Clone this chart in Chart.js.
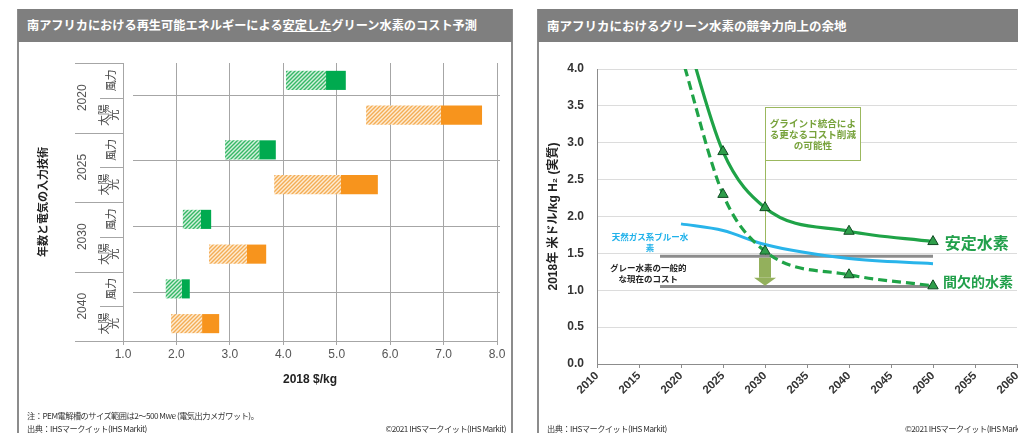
<!DOCTYPE html>
<html lang="ja">
<head>
<meta charset="UTF-8" />
<title>南アフリカのグリーン水素コスト</title>
<script src="https://cdn.jsdelivr.net/npm/chart.js"></script>
<style>
  body   { margin:0; width:1018px; height:433px; overflow:hidden; background:#fff; position:relative;
           font-family:"Liberation Sans","Noto Sans CJK JP",sans-serif; }
  .frame { position:absolute; top:9px; height:440px; border-left:2px solid #8c8c8c; border-right:2px solid #8c8c8c; }
  .head  { position:absolute; top:9px; height:33px; background:#7f7f7f; color:#fff; font-weight:bold;
           font-size:12.2px; line-height:33px; padding-left:9px; box-sizing:border-box; white-space:nowrap;
           font-family:"Noto Sans CJK JP",sans-serif; overflow:hidden; }
  .box   { position:absolute; top:43px; }
  .note  { position:absolute; font-size:8.2px; color:#333; white-space:nowrap; letter-spacing:-0.5px;
           font-family:"Noto Sans CJK JP",sans-serif; }
</style>
</head>
<body>

<div class="frame" style="left:17px;width:492px;"></div>
<div class="frame" style="left:537px;width:500px;"></div>
<div class="head" style="left:18px;width:494px;">南アフリカにおける再生可能エネルギーによる<u>安定した</u>グリーン水素のコスト予測</div>
<div class="head" style="left:538px;width:480px;font-size:12.5px;">南アフリカにおけるグリーン水素の競争力向上の余地</div>

<div class="box" style="left:19px;"><canvas id="costBars" width="492" height="390"></canvas></div>
<div class="box" style="left:539px;"><canvas id="compLines" width="479" height="390"></canvas></div>

<div class="note" style="left:27px;top:409px;">注：PEM電解槽のサイズ範囲は2～500 Mwe (電気出力メガワット)。</div>
<div class="note" style="left:27px;top:422px;">出典：IHSマークイット(IHS Markit)</div>
<div class="note" style="left:372px;top:422px;width:134px;text-align:right;">©2021 IHSマークイット(IHS Markit)</div>
<div class="note" style="left:547px;top:422px;">出典：IHSマークイット(IHS Markit)</div>
<div class="note" style="left:905px;top:422px;">©2021 IHSマークイット(IHS Markit)</div>

<script>
  /* ---------- left: cost ranges (2018 $/kg) ---------- */
  const years     = ['2020','2025','2030','2040'];
  const techs     = ['風力','太陽光'];
  const windLow   = [4.05, 2.91, 2.12, 1.80];
  const windMid   = [4.80, 3.55, 2.46, 2.10];
  const windHigh  = [5.17, 3.86, 2.65, 2.25];
  const solarLow  = [5.55, 3.83, 2.61, 1.90];
  const solarMid  = [6.95, 5.08, 3.32, 2.48];
  const solarHigh = [7.72, 5.77, 3.68, 2.80];
  const costTicks = [1, 2, 3, 4, 5, 6, 7, 8];

  /* ---------- right: competitiveness (USD/kg H2) ---------- */
  const lineYears    = [2020, 2025, 2030, 2040, 2050];
  const stableH2     = [4.70, 2.88, 2.12, 1.80, 1.66];
  const intermitH2   = [4.20, 2.30, 1.53, 1.21, 1.06];
  const blueYears    = [2020, 2025, 2030, 2040, 2050];
  const blueH2       = [1.90, 1.81, 1.62, 1.43, 1.36];
  const greyYears    = [2017.5, 2050];
  const greyHigh     = [1.46, 1.46];
  const greyLow      = [1.05, 1.05];
  const yearTicks    = [2010,2015,2020,2025,2030,2035,2040,2045,2050,2055,2060];
  const priceTicks   = [0,0.5,1,1.5,2,2.5,3,3.5,4];

  const FONT = '"Liberation Sans","Noto Sans CJK JP",sans-serif';
  const CJK  = '"Noto Sans CJK JP",sans-serif';

  /* ---------- hatch pattern ---------- */
  function hatch(ctx, bg, fg) {
    const c = document.createElement('canvas');
    c.width = 4; c.height = 4;
    const g = c.getContext('2d');
    g.fillStyle = bg; g.fillRect(0, 0, 4, 4);
    g.strokeStyle = fg; g.lineWidth = 1.4;
    g.beginPath();
    g.moveTo(-1, 5); g.lineTo(5, -1);
    g.moveTo(-1, 1); g.lineTo(1, -1);
    g.moveTo(3, 5);  g.lineTo(5, 3);
    g.stroke();
    return ctx.createPattern(c, 'repeat');
  }

  const leftCtx   = document.getElementById('costBars').getContext('2d');
  const windHatch = hatch(leftCtx, '#d4f0dd', '#35b866');
  const sunHatch  = hatch(leftCtx, '#fdebd3', '#f4ad55');

  const rows = [], hatched = [], solid = [], hatchCol = [], solidCol = [];
  years.forEach((y, i) => {
    rows.push(y + ' ' + techs[0]); hatched.push([windLow[i], windMid[i]]);  solid.push([windMid[i], windHigh[i]]);
    hatchCol.push(windHatch); solidCol.push('#00aa4f');
    rows.push(y + ' ' + techs[1]); hatched.push([solarLow[i], solarMid[i]]); solid.push([solarMid[i], solarHigh[i]]);
    hatchCol.push(sunHatch);  solidCol.push('#f7941d');
  });

  // odd offset grid rows as seen in the source, in category units
  const rowLines = [0.43, 2.30, 4.20, 6.10];

  const categoryLabels = {
    id:'categoryLabels',
    beforeDatasetsDraw(chart) {
      const {ctx, chartArea:a, scales:{y}} = chart;
      ctx.save();
      ctx.strokeStyle = '#a6a6a6'; ctx.lineWidth = 1;
      ctx.beginPath();
      rowLines.forEach(v => { const p = Math.round(y.getPixelForValue(v)) + .5; ctx.moveTo(a.left + 10, p); ctx.lineTo(a.right + 3, p); });
      ctx.stroke();
      ctx.restore();
    },
    afterDraw(chart) {
      const {ctx, chartArea:a, scales:{y}} = chart;
      const half = (y.getPixelForValue(1) - y.getPixelForValue(0)) / 2;
      ctx.save();
      ctx.strokeStyle = '#a6a6a6'; ctx.lineWidth = 1;
      ctx.beginPath();
      ctx.moveTo(a.left + .5, a.top); ctx.lineTo(a.left + .5, a.bottom);
      years.forEach((yr, g) => {
        const top = Math.round(y.getPixelForValue(2 * g) - half) + .5;
        const mid = Math.round(y.getPixelForValue(2 * g) + half) + .5;
        ctx.moveTo(a.left - 48, top); ctx.lineTo(a.left, top);
        ctx.moveTo(a.left - 23, mid); ctx.lineTo(a.left, mid);
      });
      const bot = Math.round(a.bottom) + .5;
      ctx.moveTo(a.left - 48, bot); ctx.lineTo(a.right, bot);
      ctx.stroke();

      const rot = (txt, x, yy, font, col) => {
        ctx.save(); ctx.translate(x, yy); ctx.rotate(-Math.PI / 2);
        ctx.font = font; ctx.fillStyle = col; ctx.textAlign = 'center'; ctx.textBaseline = 'middle';
        ctx.fillText(txt, 0, 0); ctx.restore();
      };
      years.forEach((yr, g) => {
        const c = (y.getPixelForValue(2 * g) + y.getPixelForValue(2 * g + 1)) / 2;
        rot(yr, a.left - 40, c, '12px ' + FONT, '#555');
        rot(techs[0], a.left - 12, y.getPixelForValue(2 * g), '11px ' + CJK, '#444');
        rot(techs[1].slice(0, 2), a.left - 19, y.getPixelForValue(2 * g + 1), '11px ' + CJK, '#444');
        rot(techs[1].slice(2), a.left - 9, y.getPixelForValue(2 * g + 1), '11px ' + CJK, '#444');
      });
      rot('年数と電気の入力技術', 24, (a.top + a.bottom) / 2, 'bold 11px ' + CJK, '#222');
      ctx.restore();
    }
  };

  new Chart(leftCtx, {
    type:'bar',
    data:{ labels:rows,
      datasets:[
        { data:hatched, backgroundColor:hatchCol, grouped:false, barPercentage:0.55, categoryPercentage:1 },
        { data:solid,   backgroundColor:solidCol, grouped:false, barPercentage:0.55, categoryPercentage:1 }
      ] },
    options:{
      indexAxis:'y', responsive:false, animation:false,
      layout:{ padding:{ left:104, right:14, top:20, bottom:0 } },
      plugins:{ legend:{display:false}, tooltip:{enabled:false} },
      scales:{
        y:{ display:false },
        x:{ min:1, max:8,
            afterBuildTicks: s => { s.ticks = costTicks.map(v => ({value:v})); },
            afterFit: s => { s.height = 92; },
            grid:{ color:'#a6a6a6', tickLength:4, tickColor:'#a6a6a6' },
            border:{ display:false },
            ticks:{ padding:2, color:'#555', font:{ family:FONT, size:12 }, callback:v => v.toFixed(1) },
            title:{ display:true, text:'2018 $/kg', color:'#222', padding:{ top:0, bottom:46 },
                    font:{ family:FONT, size:12, weight:'bold' } } }
      }
    },
    plugins:[categoryLabels]
  });

  /* ---------- right chart ---------- */
  const pts = (xs, ys) => xs.map((x, i) => ({ x, y:ys[i] }));

  const notes = {
    id:'notes',
    beforeDatasetsDraw(chart) {
      const {ctx, scales:{x, y}} = chart;
      ctx.save();
      const bx0 = Math.round(x.getPixelForValue(2030)) + .5, bx1 = Math.round(x.getPixelForValue(2041.3)) + .5;
      const by0 = Math.round(y.getPixelForValue(3.48)) + .5, by1 = Math.round(y.getPixelForValue(2.77)) + .5;
      ctx.fillStyle = '#fff'; ctx.fillRect(bx0, by0, bx1 - bx0, by1 - by0);
      ctx.strokeStyle = '#9bb85e'; ctx.lineWidth = 1;
      ctx.strokeRect(bx0, by0, bx1 - bx0, by1 - by0);
      ctx.beginPath(); ctx.moveTo(bx0, by1); ctx.lineTo(bx0, y.getPixelForValue(1.46)); ctx.stroke();
      ctx.fillStyle = '#77a23b'; ctx.font = 'bold 9.6px ' + CJK; ctx.textAlign = 'center'; ctx.textBaseline = 'middle';
      const cx = x.getPixelForValue(2035.7);
      ctx.fillText('グラインド統合によ', cx, y.getPixelForValue(3.26));
      ctx.fillText('る更なるコスト削減', cx, y.getPixelForValue(3.11));
      ctx.fillText('の可能性', cx, y.getPixelForValue(2.96));
      ctx.restore();
    },
    afterDatasetsDraw(chart) {
      const {ctx, scales:{x, y}} = chart;
      ctx.save();
      // arrow
      const ax = x.getPixelForValue(2030);
      const t = y.getPixelForValue(1.44), m = y.getPixelForValue(1.17), b = y.getPixelForValue(1.06);
      ctx.fillStyle = '#93b05c';
      ctx.fillRect(ax - 6, t, 12, m - t);
      ctx.beginPath(); ctx.moveTo(ax - 11, m); ctx.lineTo(ax + 11, m); ctx.lineTo(ax, b); ctx.closePath(); ctx.fill();
      // labels
      ctx.textBaseline = 'middle';
      ctx.textAlign = 'center'; ctx.font = 'bold 8.5px ' + CJK;
      ctx.fillStyle = '#1fb1ea';
      ctx.fillText('天然ガス系ブルー水', x.getPixelForValue(2016.3), y.getPixelForValue(1.73));
      ctx.fillText('素', x.getPixelForValue(2016.3), y.getPixelForValue(1.57));
      ctx.fillStyle = '#222';
      ctx.fillText('グレー水素の一般的', x.getPixelForValue(2016.1), y.getPixelForValue(1.31));
      ctx.fillText('な現在のコスト', x.getPixelForValue(2016.1), y.getPixelForValue(1.16));
      ctx.textAlign = 'left'; ctx.fillStyle = '#22a04b';
      ctx.font = 'bold 16px ' + CJK; ctx.fillText('安定水素', x.getPixelForValue(2051.4), y.getPixelForValue(1.64));
      ctx.font = 'bold 14px ' + CJK; ctx.fillText('間欠的水素', x.getPixelForValue(2051.2), y.getPixelForValue(1.12));
      ctx.restore();
    }
  };

  const tri = { pointStyle:'triangle', pointRadius:[0,6,6,6,6], pointBackgroundColor:'#2f9e4b',
                pointBorderColor:'#0f4a22', pointBorderWidth:1, cubicInterpolationMode:'monotone' };

  new Chart(document.getElementById('compLines'), {
    type:'line',
    data:{ datasets:[
      { data:pts(lineYears, stableH2),   borderColor:'#1fa347', borderWidth:3.2, order:1, ...tri },
      { data:pts(lineYears, intermitH2), borderColor:'#1fa347', borderWidth:3.2, borderDash:[9,5], order:2, ...tri },
      { data:pts(blueYears, blueH2), borderColor:'#29b4ea', borderWidth:3, pointRadius:0, cubicInterpolationMode:'monotone', order:3 },
      { data:pts(greyYears, greyHigh), borderColor:'#8c8c8c', borderWidth:3, pointRadius:0, order:4 },
      { data:pts(greyYears, greyLow),  borderColor:'#8c8c8c', borderWidth:3, pointRadius:0, order:5 }
    ] },
    options:{
      responsive:false, animation:false,
      layout:{ autoPadding:false, padding:{ left:0, right:1, top:26, bottom:0 } },
      plugins:{ legend:{display:false}, tooltip:{enabled:false} },
      scales:{
        x:{ type:'linear', min:2010, max:2060,
            afterBuildTicks: s => { s.ticks = yearTicks.map(v => ({value:v})); },
            afterFit: s => { s.height = 69; s.paddingRight = 0; s.paddingLeft = 0; },
            grid:{ drawOnChartArea:false, tickLength:4, tickColor:'#8c8c8c' },
            border:{ color:'#8c8c8c' },
            ticks:{ minRotation:45, maxRotation:45, padding:1, color:'#333',
                    font:{ family:FONT, size:11.5, weight:'bold' }, callback:v => String(v) } },
        y:{ min:0, max:4,
            afterBuildTicks: s => { s.ticks = priceTicks.map(v => ({value:v})); },
            afterFit: s => { s.width = 58; s.paddingTop = 0; s.paddingBottom = 0; },
            grid:{ color:'#dcdcdc', drawTicks:false },
            border:{ color:'#8c8c8c' },
            ticks:{ padding:13, color:'#333', font:{ family:FONT, size:12, weight:'bold' }, callback:v => v.toFixed(1) },
            title:{ display:true, text:'2018年 米ドル/kg H₂ (実質)', color:'#222', padding:{ top:7, bottom:0 },
                    font:{ family:FONT, size:12, weight:'bold' } } }
      }
    },
    plugins:[notes]
  });
</script>
</body>
</html>
